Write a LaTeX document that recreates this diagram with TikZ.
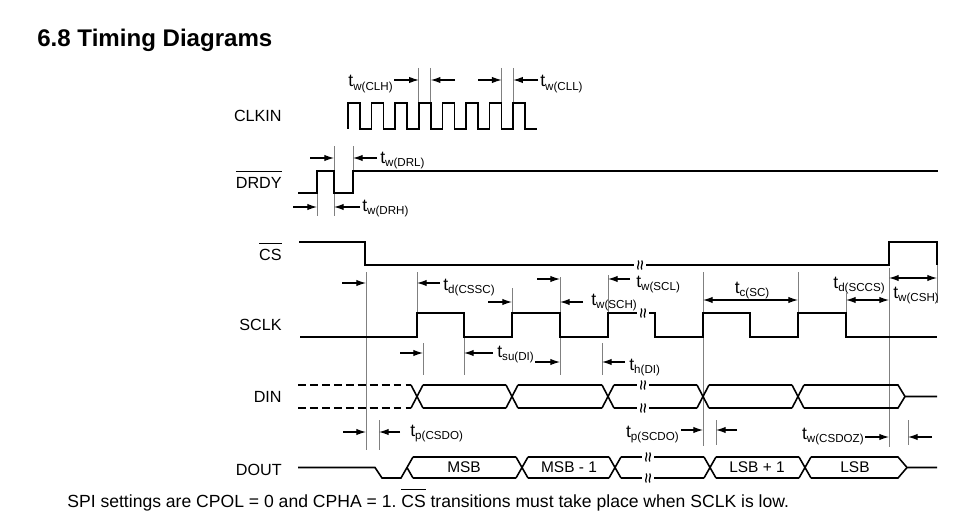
\documentclass[tikz,border=0pt]{standalone}
\usepackage{fontspec}
\setmainfont{Liberation Sans}
\usetikzlibrary{arrows.meta, positioning}
\frenchspacing

% timing parameter label: t with a lowered subscript
\newcommand{\tpar}[1]{{\fontsize{10}{12}\selectfont t}\raisebox{-1.8pt}{\fontsize{6.6}{8}\selectfont #1}}
% active-low signal name
\newcommand{\actlow}[1]{\leavevmode\vbox{\hrule height 0.55pt \kern 2.6pt \hbox{#1}}}

\tikzset{
  sig/.style={line width=0.9pt},
  guide/.style={draw=black!50, line width=0.55pt},
  dim/.style={-{Latex[length=5.5pt,width=3.6pt]}, line width=0.6pt},
  dimboth/.style={{Latex[length=5.5pt,width=3.6pt]}-{Latex[length=5.5pt,width=3.6pt]}, line width=0.6pt},
  siglabel/.style={anchor=base east, inner sep=0pt, font=\fontsize{9.2}{11}\selectfont},
  tlabel/.style={inner sep=0pt},
  boxtext/.style={inner sep=0pt, font=\fontsize{8.8}{10}\selectfont},
  pics/brk/.style={code={
    \fill[white] (-6,-5) rectangle (6,5);
    \draw[line width=0.7pt] (-1.8,-4.5) .. controls (0.2,-1.5) and (-3.8,1.5) .. (-1.8,4.5);
    \draw[line width=0.7pt] (1.8,-4.5) .. controls (3.8,-1.5) and (-0.2,1.5) .. (1.8,4.5);
  }}
}

\begin{document}
\begin{tikzpicture}[x=0.02cm, y=-0.02cm]
  \useasboundingbox (0,0) rectangle (960,527);

  % signal levels (top / bottom / middle)
  \def\clkT{103} \def\clkB{129}
  \def\drT{171}  \def\drB{193}
  \def\csT{242}  \def\csB{265}
  \def\scT{313}  \def\scB{337}
  \def\diT{385}  \def\diB{408}  \def\diM{396.5}
  \def\doT{457}  \def\doB{478}  \def\doM{467.5}

  % --- title and signal names ---
  \node[anchor=base west, inner sep=0pt, font=\fontsize{13.7}{16}\selectfont\bfseries] (title) at (37,46.5) {6.8 Timing Diagrams};
  \node[siglabel] (nclk)  at (282,122) {CLKIN};
  \node[siglabel] (ndrdy) at (282,188) {\actlow{DRDY}};
  \node[siglabel] (ncs)   at (282,260) {\actlow{CS}};
  \node[siglabel] (nsclk) at (282,330) {SCLK};
  \node[siglabel] (ndin)  at (282,402) {DIN};
  \node[siglabel] (ndout) at (282,475) {DOUT};

  % --- guide lines ---
  \foreach \x/\ya/\yb in {418.8/68/\clkT, 430.8/68/\clkT, 501.6/68/\clkT, 513.2/68/\clkT,
      334/146/\drT, 353/146/\drT, 317/\drB/216, 334/\drB/216,
      366/272/450, 703/272/446, 889/268/447,
      417/272/\scT, 512/288/\scT, 560/277/\scT, 608/275/\scT, 798/272/\scT, 846/293/\scT, 937/\csB/303,
      423/343/375, 464/\scB/375, 560/\scB/375, 602/343/375,
      379/420/450, 716/420/445, 908/420/445}
    \draw[guide] (\x,\ya) -- (\x,\yb);

  % --- CLKIN ---
  \draw[sig] (348,\clkB) \foreach \k in {0,...,7}{
      -- ({348+\k*23.6},\clkT) -- ({360+\k*23.6},\clkT)
      -- ({360+\k*23.6},\clkB) -- ({371.6+\k*23.6},\clkB)};

  % --- DRDY ---
  \draw[sig] (298,\drB) -- (317,\drB) -- (317,\drT) -- (334,\drT) -- (334,\drB)
    -- (353,\drB) -- (353,\drT) -- (938,\drT);

  % --- CS ---
  \draw[sig] (299,\csT) -- (365,\csT) -- (365,\csB) -- (889,\csB) -- (889,\csT)
    -- (937,\csT) -- (937,\csB);
  \pic at (640,\csB) {brk};

  % --- SCLK ---
  \draw[sig] (300,\scB) -- (417,\scB) -- (417,\scT) -- (464,\scT) -- (464,\scB)
    -- (512,\scB) -- (512,\scT) -- (560,\scT) -- (560,\scB)
    -- (608,\scB) -- (608,\scT) -- (655,\scT) -- (655,\scB)
    -- (703,\scB) -- (703,\scT) -- (750,\scT) -- (750,\scB)
    -- (798,\scB) -- (798,\scT) -- (846,\scT) -- (846,\scB) -- (937,\scB);
  \pic at (643,\scT) {brk};

  % --- DIN ---
  \draw[sig, dash pattern=on 4.5pt off 2.3pt] (298,\diT) -- (411,\diT) (298,\diB) -- (411,\diB);
  \foreach \c in {417,512,608,703,798}
    \draw[sig] (\c-6,\diT) -- (\c+6,\diB) (\c-6,\diB) -- (\c+6,\diT);
  \foreach \a/\b in {423/506, 518/602, 614/697, 709/792}
    \draw[sig] (\a,\diT) -- (\b,\diT) (\a,\diB) -- (\b,\diB);
  \draw[sig] (804,\diT) -- (898,\diT) -- (905,\diM) -- (937,\diM);
  \draw[sig] (804,\diB) -- (898,\diB) -- (905,\diM);
  \pic at (643,\diT) {brk};
  \pic at (643,\diB) {brk};

  % --- DOUT ---
  \draw[sig] (298,\doM) -- (375,\doM) -- (382,\doB) -- (401,\doB) -- (413,\doT);
  \draw[sig] (407,\doM) -- (413,\doB);
  \foreach \c in {522,615,710,805}
    \draw[sig] (\c-6,\doT) -- (\c+6,\doB) (\c-6,\doB) -- (\c+6,\doT);
  \foreach \a/\b in {413/516, 528/609, 621/704, 716/799}
    \draw[sig] (\a,\doT) -- (\b,\doT) (\a,\doB) -- (\b,\doB);
  \draw[sig] (811,\doT) -- (898,\doT) -- (907,\doM) -- (937,\doM);
  \draw[sig] (811,\doB) -- (898,\doB) -- (907,\doM);
  \pic at (648,\doT) {brk};
  \pic at (648,\doB) {brk};
  \node[boxtext] (bmsb)  at (464,\doM) {MSB};
  \node[boxtext] (bmsb1) at (569,\doM) {MSB - 1};
  \node[boxtext] (blsb1) at (757,\doM) {LSB + 1};
  \node[boxtext] (blsb)  at (855,\doM) {LSB};

  % --- timing arrows ---
  \foreach \xa/\xb/\y in {394/418.8/80, 455/430.8/80, 478/501.6/80, 538/513.2/80,
      310/334/158, 377/353/158, 293/317/207, 360/334/207,
      342/366/283, 440/417/283, 488/512/302, 537/560/279, 583/560/302, 630/608/279,
      400/423/353, 493/464/353, 535/560/362, 625/602/362,
      343/366/432, 400/379/432, 681/703/430, 737/716/430, 865/889/437, 932/908/437}
    \draw[dim] (\xa,\y) -- (\xb,\y);
  \draw[dimboth] (703,300) -- (798,300);
  \draw[dimboth] (846,300) -- (889,300);
  \draw[dimboth] (889,278) -- (937,278);

  % --- timing labels ---
  \node[tlabel, anchor=base east] (tclh)   at (393,87)  {\tpar{w(CLH)}};
  \node[tlabel, anchor=base west] (tcll)   at (540,87)  {\tpar{w(CLL)}};
  \node[tlabel, anchor=base west] (tdrl)   at (380,163) {\tpar{w(DRL)}};
  \node[tlabel, anchor=base west] (tdrh)   at (362,211) {\tpar{w(DRH)}};
  \node[tlabel, anchor=base west] (tcssc)  at (443,290) {\tpar{d(CSSC)}};
  \node[tlabel, anchor=base west] (tsch)   at (591,305) {\tpar{w(SCH)}};
  \node[tlabel, anchor=base west] (tscl)   at (636,287) {\tpar{w(SCL)}};
  \node[tlabel, anchor=base]      (tcsc)   at (752,293) {\tpar{c(SC)}};
  \node[tlabel, anchor=base east] (tsccs)  at (885,288) {\tpar{d(SCCS)}};
  \node[tlabel, anchor=base west] (tcsh)   at (893,298) {\tpar{w(CSH)}};
  \node[tlabel, anchor=base west] (tsudi)  at (497,357) {\tpar{su(DI)}};
  \node[tlabel, anchor=base west] (thdi)   at (629,370) {\tpar{h(DI)}};
  \node[tlabel, anchor=base west] (tpcsdo) at (410,436) {\tpar{p(CSDO)}};
  \node[tlabel, anchor=base east] (tpscdo) at (679,437) {\tpar{p(SCDO)}};
  \node[tlabel, anchor=base east] (tcsdoz) at (864,439) {\tpar{w(CSDOZ)}};

  % --- note ---
  \node[anchor=base west, inner sep=0pt, font=\fontsize{10}{12}\selectfont] (note) at (67,507)
    {SPI settings are CPOL = 0 and CPHA = 1. \actlow{CS} transitions must take place when SCLK is low.};
\end{tikzpicture}
\end{document}
